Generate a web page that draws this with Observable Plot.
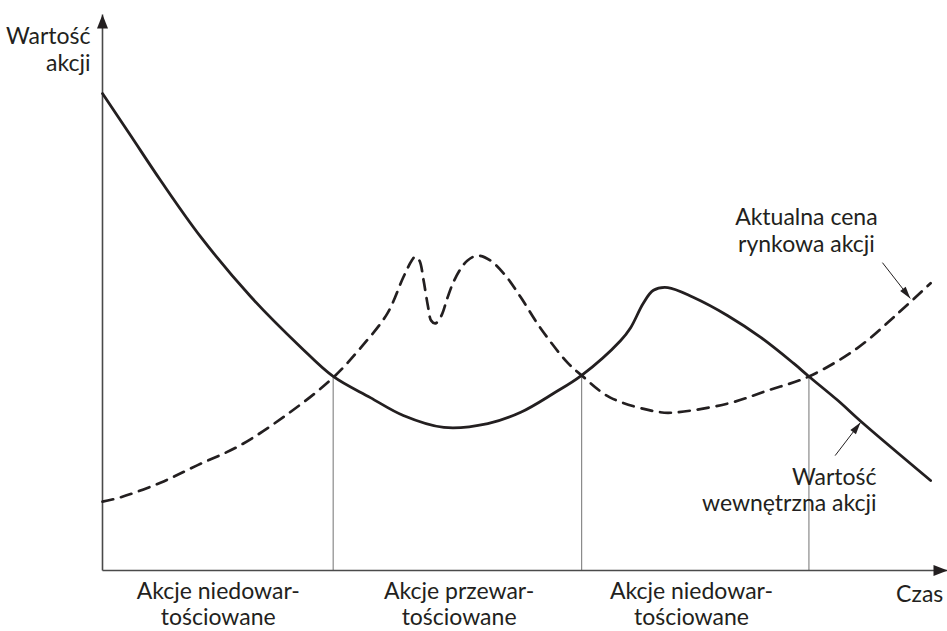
<!DOCTYPE html>
<html><head><meta charset="utf-8">
<script src="https://cdn.jsdelivr.net/npm/d3@7"></script>
<script src="https://cdn.jsdelivr.net/npm/@observablehq/plot@0.6"></script>
<style>body{margin:0;background:#fff}#chart svg{display:block}</style>
</head><body><div id="chart"></div>
<script>
// Intrinsic value (solid line)
const valueX = [0, 3.31, 6.86, 11.6, 17.5, 23.4, 27.3, 31.7, 35.6, 40.4, 45.6, 49.5, 53.4, 56.7, 61.3, 62.5, 64.0, 65.2, 66.9, 69.9, 74.0, 77.9, 81.8, 83.6, 87.0, 89.9, 98.0];
const valueY = [88.0, 80.3, 72.0, 61.6, 50.6, 41.3, 35.8, 31.9, 28.6, 26.4, 27.1, 29.2, 32.7, 36.0, 42.4, 44.8, 49.3, 51.7, 52.2, 50.4, 47.0, 43.0, 38.2, 35.8, 31.4, 27.3, 16.6];
// Market price (dashed line)
const priceX = [0, 2.13, 6.86, 11.2, 16.3, 22.2, 27.3, 30.5, 33.7, 35.6, 36.6, 37.0, 37.5, 38.0, 38.5, 38.9, 39.4, 40.1, 40.8, 41.5, 42.4, 43.2, 44.4, 45.9, 47.7, 49.5, 51.8, 55.0, 56.7, 60.1, 66.0, 68.0, 74.0, 78.7, 83.6, 89.3, 94.1, 98.0];
const priceY = [12.7, 13.5, 16.2, 19.4, 23.1, 29.2, 35.6, 41.0, 47.4, 54.1, 57.2, 57.9, 57.2, 53.5, 48.9, 46.1, 45.6, 47.0, 50.2, 53.1, 55.7, 57.2, 58.1, 57.2, 54.4, 50.4, 44.8, 38.4, 36.0, 31.9, 29.2, 29.2, 30.8, 33.2, 35.8, 41.0, 47.4, 53.0];
// Crossing points
const crossX = [27.3, 56.7, 83.6];
const crossY = [35.8, 36.0, 35.8];
// Category labels under the time axis
const categoryLabels = ["Akcje niedowar-\ntościowane", "Akcje przewar-\ntościowane", "Akcje niedowar-\ntościowane"];
const categoryX = [13.7, 42.2, 69.7];
const categoryY = -10.1;
// Axis titles
const axisTitleY = "Wartość\nakcji";
const axisTitleX = "Czas";
const axisTopY = 102.6;
const axisEndX = 100;
// Annotations
const noteTexts = ["Aktualna cena\nrynkowa akcji", "Wartość\nwewnętrzna akcji"];
const noteX = [83.3, 91.6];
const noteY = [58.7, 10.9];
const noteArrowX1 = [92.3, 86.7], noteArrowY1 = [56.8, 21.2];
const noteArrowX2 = [95.6, 89.7], noteArrowY2 = [50.2, 27.3];

const W = 947, H = 631, mL = 102, mR = 0, mT = 28, mB = 61;
const kx = (W - mL - mR) / 100, ky = (H - mT - mB) / 100;
const angle = (x1, y1, x2, y2) => Math.atan2((x2 - x1) * kx, (y2 - y1) * ky) * 180 / Math.PI;

const value = valueX.map((x, i) => ({x, y: valueY[i]}));
const price = priceX.map((x, i) => ({x, y: priceY[i]}));
const cross = crossX.map((x, i) => ({x, y: crossY[i]}));
const cats = categoryLabels.map((t, i) => ({t, x: categoryX[i], y: categoryY}));
const notes = noteTexts.map((t, i) => ({t, x: noteX[i], y: noteY[i]}));
const noteArrows = noteArrowX1.map((x1, i) => ({x1, y1: noteArrowY1[i], x2: noteArrowX2[i], y2: noteArrowY2[i], a: angle(x1, noteArrowY1[i], noteArrowX2[i], noteArrowY2[i])}));
const axes = [{x1: 0, y1: 0, x2: 0, y2: axisTopY}, {x1: 0, y1: 0, x2: axisEndX, y2: 0}].map(d => ({...d, a: angle(d.x1, d.y1, d.x2, d.y2)}));

const ink = "#231f20";
const font = "Lato, 'Noto Sans', sans-serif";

const chart = Plot.plot({
  width: W, height: H,
  marginLeft: mL, marginRight: mR, marginTop: mT, marginBottom: mB,
  x: {domain: [0, 100], axis: null},
  y: {domain: [0, 100], axis: null},
  style: {fontFamily: font, background: "#fff", overflow: "visible"},
  marks: [
    Plot.ruleX(cross, {x: "x", y1: 0, y2: "y", stroke: "#8a8a8a", strokeWidth: 1.2}),
    Plot.link(axes, {x1: "x1", y1: "y1", x2: "x2", y2: "y2", stroke: "#4a4a4a", strokeWidth: 1.6}),
    Plot.vector(axes, {x: "x2", y: "y2", rotate: "a", length: 14, r: 5.5, shape: "spike", anchor: "end", fill: ink, stroke: "none"}),
    Plot.line(price, {x: "x", y: "y", curve: "catmull-rom", stroke: ink, strokeWidth: 2.7, strokeDasharray: "11,8"}),
    Plot.line(value, {x: "x", y: "y", curve: "catmull-rom", stroke: ink, strokeWidth: 2.8}),
    Plot.link(noteArrows, {x1: "x1", y1: "y1", x2: "x2", y2: "y2", stroke: ink, strokeWidth: 1}),
    Plot.vector(noteArrows, {x: "x2", y: "y2", rotate: "a", length: 12, r: 3.5, shape: "spike", anchor: "end", fill: ink, stroke: "none"}),
    Plot.text(cats, {x: "x", y: "y", text: "t", textAnchor: "middle", lineAnchor: "bottom", lineHeight: 1.15, fontSize: 23, fill: ink}),
    Plot.text([axisTitleY], {x: -1.42, y: 92.1, text: d => d, textAnchor: "end", lineAnchor: "bottom", lineHeight: 1.17, fontSize: 23, fill: ink}),
    Plot.text([axisTitleX], {x: 99.5, y: -5.72, text: d => d, textAnchor: "end", lineAnchor: "bottom", fontSize: 23, fill: ink}),
    Plot.text(notes.slice(0, 1), {x: "x", y: "y", text: "t", textAnchor: "middle", lineAnchor: "bottom", lineHeight: 1.17, fontSize: 23, fill: ink}),
    Plot.text(notes.slice(1), {x: "x", y: "y", text: "t", textAnchor: "end", lineAnchor: "bottom", lineHeight: 1.17, fontSize: 23, fill: ink})
  ]
});
document.getElementById("chart").append(chart);
</script>
</body></html>
